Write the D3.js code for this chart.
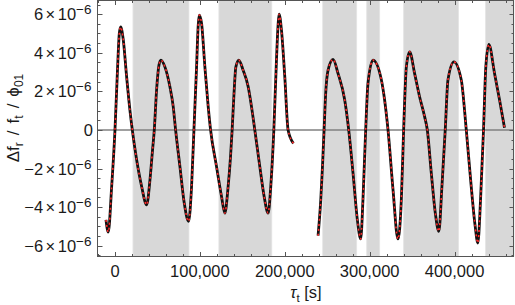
<!DOCTYPE html>
<html>
<head>
<meta charset="utf-8">
<script src="https://cdn.jsdelivr.net/npm/d3@7"></script>
<style>
  body { margin: 0; background: #fff; }
  text { font-family: "Liberation Sans", Arial, sans-serif; fill: #1a1a1a; }
</style>
</head>
<body>
<svg width="515" height="305"></svg>
<script>
// response curve, y in units of 1e-6, x = tau_t in seconds
var seg1X = [-10600, -7900, -3900, 0, 3100, 5100, 6700, 9800, 13700, 17600, 20400, 25500, 31400, 37300,
  41200, 43900, 46300, 49000, 51800, 54100, 58800, 64700, 68600, 71400, 76500, 81600, 86700, 90200,
  93000, 96100, 98000, 99300, 102000, 105900, 109800, 112600, 119600, 125500, 129400, 133300, 136100,
  138000, 140000, 142400, 145900, 150900, 156900, 160800, 164700, 170600, 175700, 180400, 183500,
  187100, 190200, 192200, 193300, 196100, 200000, 203900, 210200];
var seg1Y = [-4.66, -5.29, -2.93, 0, 3.27, 5.0, 5.34, 4.66, 2.76, 1.03, 0, -1.55, -2.93, -3.88,
  -2.59, -1.21, 0, 2.07, 3.36, 3.62, 3.27, 2.24, 1.21, 0, -1.9, -3.79, -4.74, -2.93,
  0, 3.27, 5.4, 5.95, 5.52, 3.27, 1.21, 0, -1.9, -3.45, -4.31, -2.93, -1.38,
  0, 1.72, 3.27, 3.62, 3.1, 2.24, 1.21, 0, -1.9, -3.45, -4.31, -2.93,
  0, 3.62, 5.5, 6.0, 5.17, 2.76, 0, -0.69];

var seg2X = [239200, 242400, 244400, 246300, 248200, 251000, 256900, 262700, 270600, 275300, 280400,
  285500, 289400, 292100, 295300, 298000, 303900, 313800, 317600, 321600, 327500, 333300, 337300,
  340000, 343200, 347100, 352900, 358800, 364700, 367900, 372600, 377300, 381500, 385100, 389000,
  392200, 399200, 407900, 413800, 419600, 424300, 427400, 430600, 434100, 436800, 440400, 447100,
  453000, 458800];
var seg2Y = [-5.48, -3.62, -1.9, 0, 1.9, 3.1, 3.66, 2.93, 1.55, 0, -2.24,
  -4.66, -5.65, -3.62, 0, 2.41, 3.62, 2.59, 1.55, 0, -3.1, -5.65, -3.62,
  0, 3.27, 4.05, 2.93, 1.72, 0.69, 0, -2.24, -4.31, -5.26, -2.93, 0,
  2.59, 3.53, 2.59, 0, -2.93, -5.0, -5.86, -3.62, 0, 3.27, 4.43, 2.93,
  1.55, 0.12];

// shaded intervals (s)
var bandStart = [21200, 122400, 244700, 296500, 340000, 436500];
var bandEnd = [87100, 184700, 284700, 311800, 404700, 470000];

var xTicks = [0, 100000, 200000, 300000, 400000];
var yTicks = [-6, -4, -2, 0, 2, 4, 6];

var svg = d3.select("svg");
var plotL = 98, plotR = 514, plotT = 0.5, plotB = 256.5;

var x = d3.scaleLinear().domain([-20000, 470000]).range([plotL, plotR]);
var y = d3.scaleLinear().domain([-6.56e-6, 6.71e-6]).range([plotB, plotT]);

var bands = d3.zip(bandStart, bandEnd);
svg.append("g").selectAll("rect")
  .data(bands)
  .enter().append("rect")
    .attr("x", function(d) { return x(d[0]); })
    .attr("y", plotT)
    .attr("width", function(d) { return Math.min(x(d[1]), plotR) - x(d[0]); })
    .attr("height", plotB - plotT)
    .attr("fill", "#d8d8d8")
    .attr("stroke", "#e4e4e4")
    .attr("stroke-width", 0.8);

// zero line
svg.append("line")
  .attr("x1", plotL).attr("x2", plotR)
  .attr("y1", y(0)).attr("y2", y(0))
  .attr("stroke", "#808080").attr("stroke-width", 1.5);

// frame with inward ticks
var frameColor = "#555";
var xMinor = d3.range(-20000, 470001, 20000);
var yMinor = d3.range(-6.5, 6.51, 0.5);

function isMajorX(v) { return v % 100000 === 0; }
function isMajorY(v) { return Math.abs(v % 2) < 1e-9; }

var ax = svg.append("g").attr("stroke", frameColor).attr("stroke-width", 1);
xMinor.forEach(function(v) {
  var len = isMajorX(v) ? 4.5 : 2.5;
  var px = Math.round(x(v)) + 0.5;
  ax.append("line").attr("x1", px).attr("x2", px).attr("y1", plotB).attr("y2", plotB - len);
  ax.append("line").attr("x1", px).attr("x2", px).attr("y1", plotT).attr("y2", plotT + len);
});
yMinor.forEach(function(v) {
  var len = isMajorY(v) ? 4.5 : 2.5;
  var py = Math.round(y(v * 1e-6)) + 0.5;
  ax.append("line").attr("x1", plotL).attr("x2", plotL + len).attr("y1", py).attr("y2", py);
  ax.append("line").attr("x1", plotR).attr("x2", plotR - len).attr("y1", py).attr("y2", py);
});
svg.append("rect")
  .attr("x", plotL - 0.5).attr("y", plotT)
  .attr("width", plotR - plotL).attr("height", plotB - plotT)
  .attr("fill", "none").attr("stroke", frameColor).attr("stroke-width", 1);

// curves: black solid under red dashes
var line = d3.line()
  .x(function(d) { return x(d[0]); })
  .y(function(d) { return y(d[1] * 1e-6); })
  .curve(d3.curveMonotoneX);

[d3.zip(seg1X, seg1Y), d3.zip(seg2X, seg2Y)].forEach(function(seg) {
  svg.append("path").datum(seg).attr("d", line)
    .attr("fill", "none").attr("stroke", "#111").attr("stroke-width", 2.8)
    .attr("stroke-linejoin", "round");
  svg.append("path").datum(seg).attr("d", line)
    .attr("fill", "none").attr("stroke", "#ff2a2a").attr("stroke-width", 1.6)
    .attr("stroke-dasharray", "2,3");
});

// tick labels
var fmt = d3.format(",");
svg.append("g").selectAll("text")
  .data(xTicks)
  .enter().append("text")
    .attr("x", function(d) { return x(d); })
    .attr("y", 277)
    .attr("text-anchor", "middle")
    .attr("font-size", 16.5)
    .text(function(d) { return fmt(d); });

var yl = svg.append("g");
yTicks.forEach(function(v) {
  var t = yl.append("text")
    .attr("x", v === 0 ? 93 : 91.5)
    .attr("y", y(v * 1e-6) + 6)
    .attr("text-anchor", "end")
    .attr("font-size", 16.5);
  if (v === 0) { t.text("0"); return; }
  t.append("tspan").text((v < 0 ? "\u2212" : "") + Math.abs(v));
  t.append("tspan").attr("dx", 2.5).text("\u00d7");
  t.append("tspan").attr("dx", 2.5).text("10");
  t.append("tspan").attr("dy", -6).attr("font-size", 13.5).text("\u22126");
});

// axis titles
var xt = svg.append("text")
  .attr("x", 306).attr("y", 298)
  .attr("text-anchor", "middle").attr("font-size", 16.5);
xt.append("tspan").attr("font-style", "italic").text("\u03c4");
xt.append("tspan").attr("dy", 4).attr("font-size", 11.5).text("t");
xt.append("tspan").attr("dy", -4).text(" [s]");

var ytl = svg.append("text")
  .attr("transform", "translate(19,118) rotate(-90)")
  .attr("text-anchor", "middle").attr("font-size", 17);
ytl.append("tspan").text("\u0394f");
ytl.append("tspan").attr("dy", 4).attr("font-size", 12).text("r");
ytl.append("tspan").attr("dy", -4).attr("dx", 7).text("/");
ytl.append("tspan").attr("dx", 7).text("f");
ytl.append("tspan").attr("dy", 4).attr("font-size", 12).text("t");
ytl.append("tspan").attr("dy", -4).attr("dx", 7).text("/");
ytl.append("tspan").attr("dx", 7).text("\u03d5");
ytl.append("tspan").attr("dy", 4).attr("font-size", 12).text("01");
</script>
</body>
</html>
